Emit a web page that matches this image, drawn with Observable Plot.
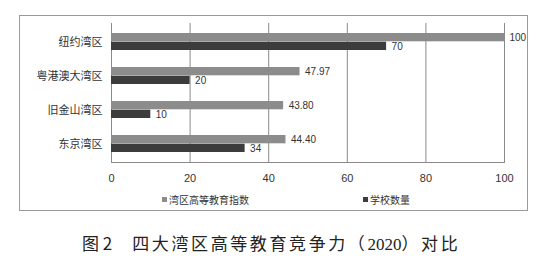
<!DOCTYPE html>
<html>
<head>
<meta charset="utf-8">
<script src="https://cdn.jsdelivr.net/npm/d3@7"></script>
<script src="https://cdn.jsdelivr.net/npm/@observablehq/plot@0.6"></script>
<style>
  html, body { margin: 0; padding: 0; background: #fff; }
  #wrap { position: relative; width: 544px; height: 262px; overflow: hidden; font-family: "Liberation Sans", "Noto Sans CJK SC", sans-serif; }
  #box { position: absolute; left: 19px; top: 15px; width: 509px; height: 196px; border: 1px solid #9a9a9a; box-sizing: border-box; }
  #chart { position: absolute; left: 0; top: 0; }
  .leg { position: absolute; top: 192px; font-size: 10px; color: #333; font-family: "Noto Sans CJK SC", sans-serif; white-space: nowrap; }
  .sw { display: inline-block; width: 5px; height: 5px; margin-right: 2px; vertical-align: 2px; }
  #cap { position: absolute; top: 230px; left: 82px; font-size: 17px; color: #222; font-family: "Noto Sans CJK SC", sans-serif; white-space: nowrap; }
</style>
</head>
<body>
<div id="wrap">
  <div id="box"></div>
  <div id="chart"></div>
  <div class="leg" style="left:162px"><span class="sw" style="background:#8c8c8c"></span>湾区高等教育指数</div>
  <div class="leg" style="left:363px"><span class="sw" style="background:#3c3c3c"></span>学校数量</div>
  <div id="cap"><span>图 2</span><span style="margin-left:20px;letter-spacing:2.6px">四大湾区高等教育竞争力（<span style="font-family:'Liberation Serif',serif;letter-spacing:0">2020</span>）对比</span></div>
</div>
<script>
const categories = ["纽约湾区", "粤港澳大湾区", "旧金山湾区", "东京湾区"];
const indexValues = [100, 47.97, 43.80, 44.40];
const indexLabels = ["100", "47.97", "43.80", "44.40"];
const schoolValues = [70, 20, 10, 34];
const xTicks = [0, 20, 40, 60, 80, 100];

const seriesA = categories.map((c, i) => ({cat: c, v: indexValues[i], label: indexLabels[i]}));
const seriesB = categories.map((c, i) => ({cat: c, v: schoolValues[i], label: String(schoolValues[i])}));

const half = 8.7;
const chart = Plot.plot({
  width: 544,
  height: 190,
  marginLeft: 111,
  marginRight: 40,
  marginTop: 23,
  marginBottom: 28,
  style: {fontFamily: "'Liberation Sans', 'Noto Sans CJK SC', sans-serif", fontSize: "11px", color: "#333", background: "transparent"},
  x: {domain: [0, 100], ticks: xTicks, tickSize: 0, tickPadding: 12, label: null, tickFormat: d => String(d)},
  y: {domain: categories, paddingInner: 0.5, paddingOuter: 0.25, tickSize: 0, tickPadding: 9, label: null},
  marks: [
    Plot.ruleX(xTicks, {stroke: "#8a8a8a", strokeWidth: 1}),
    Plot.barX(seriesA, {y: "cat", x: "v", fill: "#8c8c8c", insetBottom: half}),
    Plot.barX(seriesB, {y: "cat", x: "v", fill: "#3c3c3c", insetTop: half}),
    Plot.text(seriesA, {y: "cat", x: "v", text: "label", dx: 5, dy: -4.4, textAnchor: "start", fill: "#333", fontSize: 10}),
    Plot.text(seriesB, {y: "cat", x: "v", text: "label", dx: 5, dy: 4.6, textAnchor: "start", fill: "#333", fontSize: 10}),
    Plot.frame({anchor: "bottom", stroke: "#8a8a8a"})
  ]
});
document.getElementById("chart").appendChild(chart);
</script>
</body>
</html>
